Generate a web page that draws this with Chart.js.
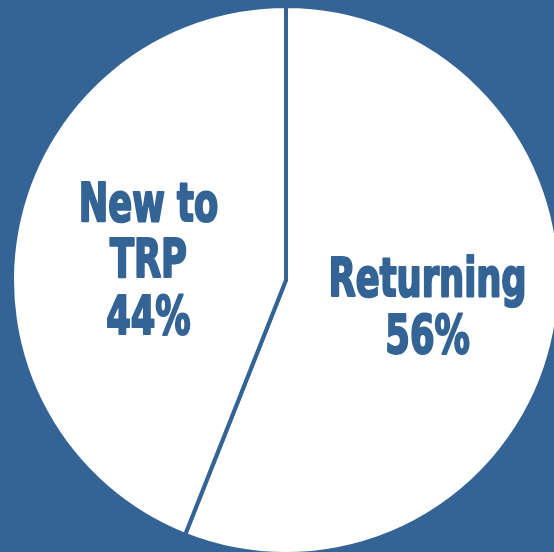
<!DOCTYPE html>
<html>
<head>
<meta charset="utf-8">
<script src="https://cdn.jsdelivr.net/npm/chart.js@4.4.0/dist/chart.umd.min.js"></script>
<style>
	html, body { margin: 0; padding: 0; width: 554px; height: 552px; overflow: hidden; background: #346495; }
	#wrap { position: absolute; left: 10px; top: 4px; width: 552px; height: 552px; }
</style>
</head>
<body>
<div id="wrap"><canvas id="pie_chart"></canvas></div>
<script>
const categories = ["Returning", "New to TRP"];
const labelLines = [["Returning", "56%"], ["New to", "TRP", "44%"]];
const shares = [56, 44];

const blue = "#346495";

// draws the multi-line labels at each slice's own centre point
// (squeezed sideways to look like the condensed heavy face of the original)
const sliceLabels = {
	id: "sliceLabels",
	afterDatasetsDraw(chart) {
		const c = chart.ctx;
		const arcs = chart.getDatasetMeta(0).data;
		const squeeze = 0.74;
		const lh = 56.5;
		const nudge = [[7, -4], [-3, 0]];
		c.save();
		c.fillStyle = blue;
		c.strokeStyle = blue;
		c.lineWidth = 2.2;
		c.lineJoin = "round";
		c.textAlign = "center";
		c.textBaseline = "alphabetic";
		c.font = "bold 53px 'DejaVu Sans Condensed', 'DejaVu Sans', sans-serif";
		arcs.forEach((arc, i) => {
			const p = arc.tooltipPosition();
			const lines = labelLines[i];
			const y0 = p.y + 23 + nudge[i][1] - (lines.length - 1) * lh / 2;
			lines.forEach((t, j) => {
				c.save();
				c.translate(p.x + nudge[i][0], y0 + j * lh);
				c.scale(squeeze, 1);
				c.fillText(t, 0, 0);
				c.strokeText(t, 0, 0);
				c.restore();
			});
		});
		c.restore();
	}
};

document.addEventListener("DOMContentLoaded", () => {
	const ctx = document.getElementById("pie_chart");
	new Chart(ctx, {
		type: "pie",
		data: {
			labels: categories,
			datasets: [{
				data: shares,
				backgroundColor: "#ffffff",
				borderColor: blue,
				borderWidth: 4
			}]
		},
		options: {
			responsive: true,
			maintainAspectRatio: false,
			animation: false,
			plugins: {
				legend: { display: false },
				tooltip: { enabled: false }
			}
		},
		plugins: [sliceLabels]
	});
});
</script>
</body>
</html>
